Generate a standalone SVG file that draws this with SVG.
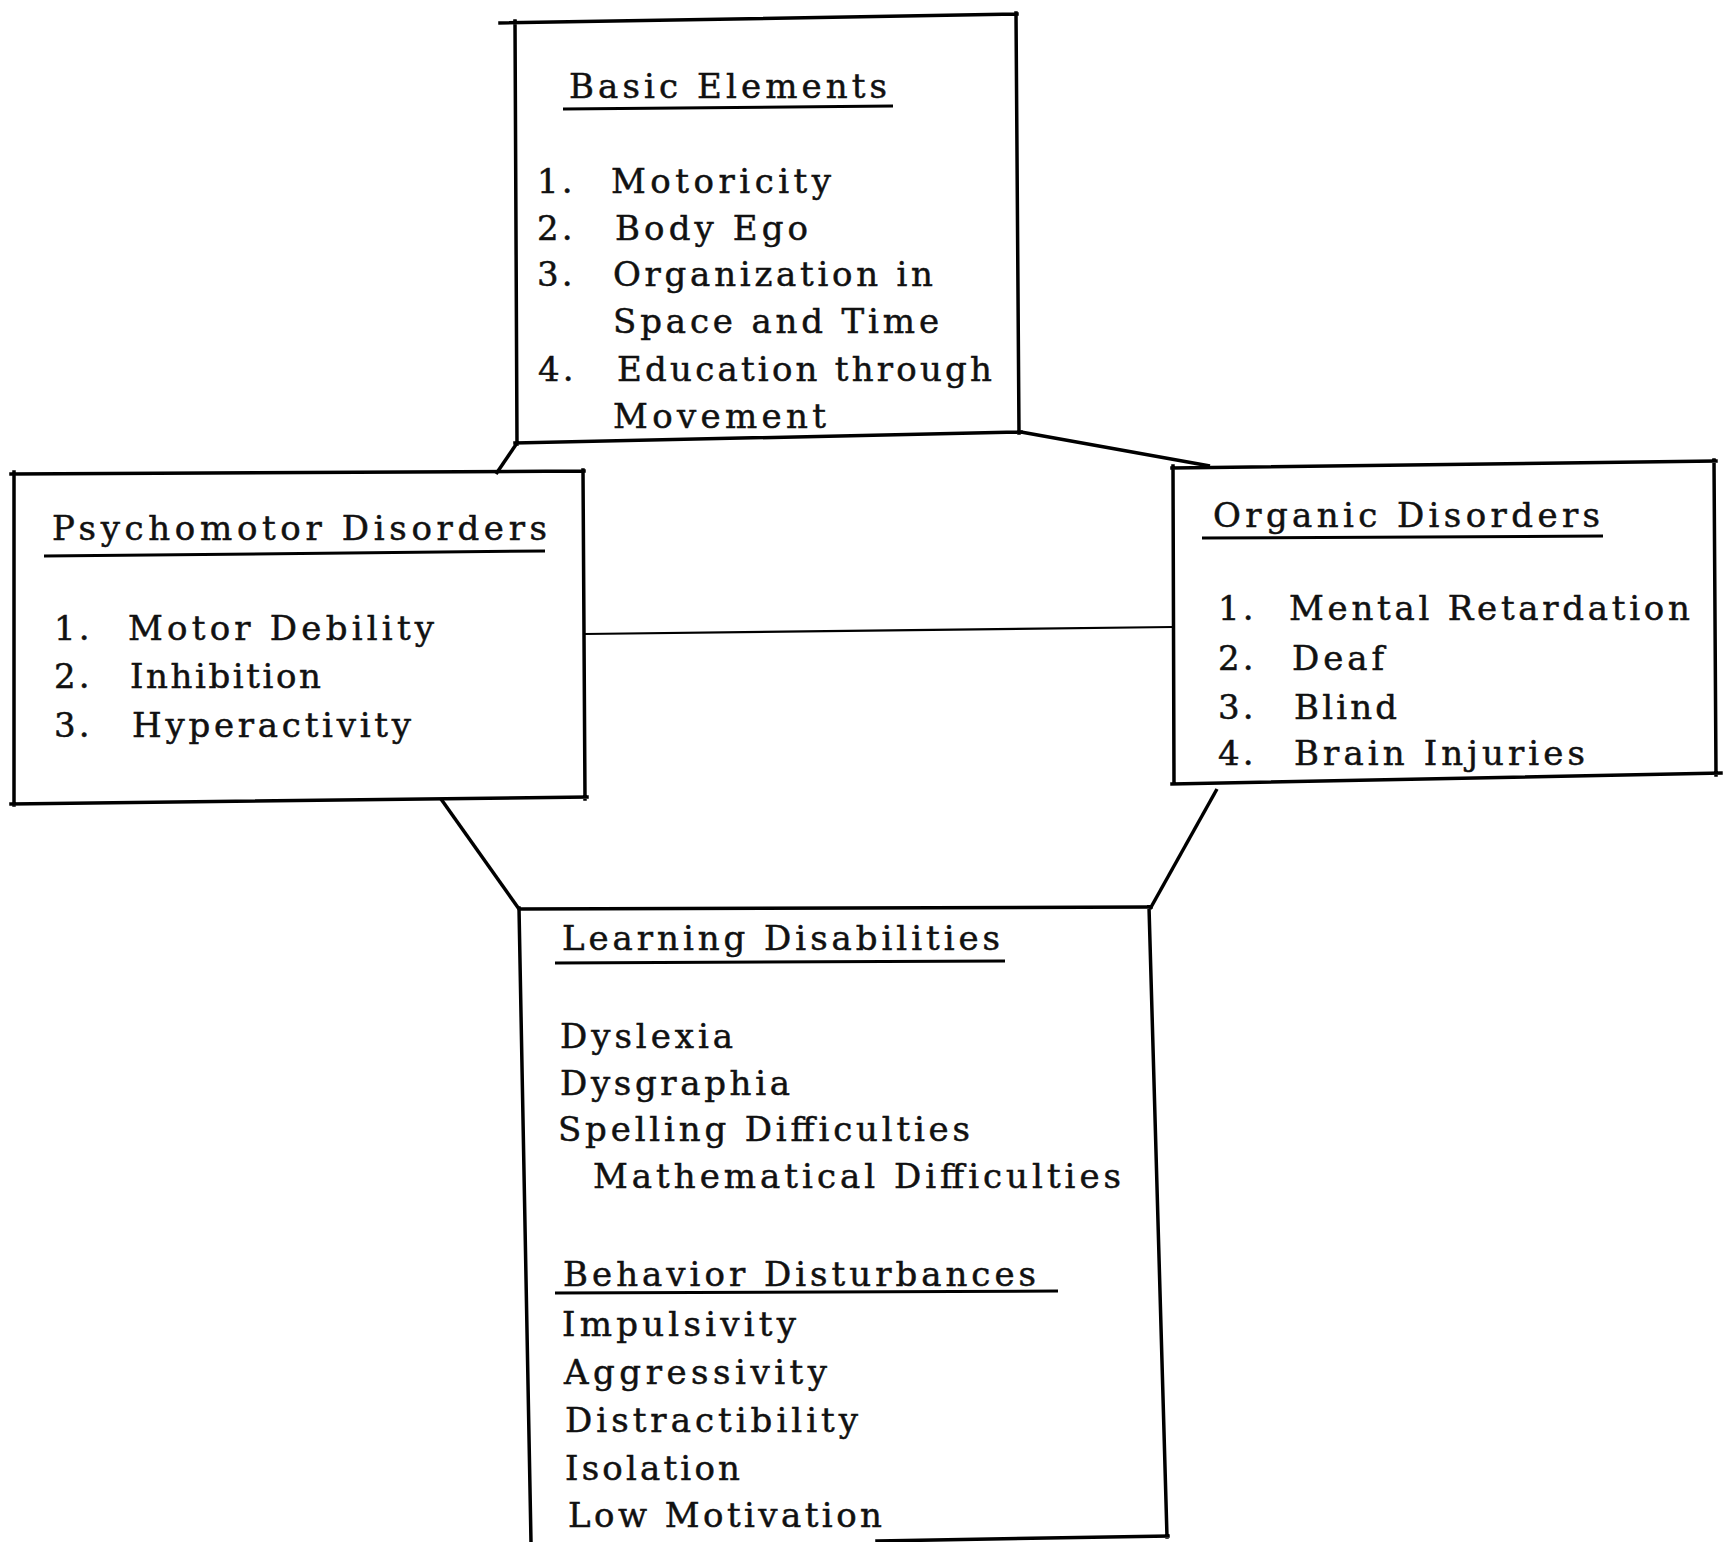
<svg xmlns="http://www.w3.org/2000/svg" width="1728" height="1542" viewBox="0 0 1728 1542">
<style>
.bx{fill:none;stroke:#000;stroke-width:3.5;stroke-linecap:square}
.ul{fill:none;stroke:#000;stroke-width:3}
.cn{fill:none;stroke:#000;stroke-width:3.5}
.thin{stroke-width:2.2}
text{font-family:"DejaVu Serif","Liberation Serif",serif;font-size:34px;fill:#111;stroke:#111;stroke-width:0.5}
.n{letter-spacing:3px}
</style>
<rect width="1728" height="1542" fill="#fff"/>
<g id="connectors">
<path class="cn" d="M517 443 L496 474"/>
<path class="cn" d="M1021 432 L1210 466"/>
<path class="cn thin" d="M584 634 L1173 627"/>
<path class="cn" d="M441 799 L519 909"/>
<path class="cn" d="M1217 789 L1150 909"/>
</g>
<g id="basic-elements">
<path class="bx" d="M500 23 L1017 14 M515 21 L517 444 M1016 13 L1019 433 M515 443 L1021 432"/>
<text x="569" y="98" textLength="318" lengthAdjust="spacing">Basic Elements</text>
<path class="ul" d="M563 109 L893 106"/>
<text class="n" x="537" y="193">1.</text><text x="611" y="193" textLength="220" lengthAdjust="spacing">Motoricity</text>
<text class="n" x="537" y="240">2.</text><text x="615" y="240" textLength="193" lengthAdjust="spacing">Body Ego</text>
<text class="n" x="537" y="286">3.</text><text x="613" y="286" textLength="320" lengthAdjust="spacing">Organization in</text>
<text x="613" y="333" textLength="326" lengthAdjust="spacing">Space and Time</text>
<text class="n" x="538" y="381">4.</text><text x="617" y="381" textLength="375" lengthAdjust="spacing">Education through</text>
<text x="613" y="428" textLength="213" lengthAdjust="spacing">Movement</text>
</g>
<g id="psychomotor-disorders">
<path class="bx" d="M11 474 L584 471 M14 472 L14 805 M583 470 L585 799 M11 804 L587 797"/>
<text x="52" y="540" textLength="495" lengthAdjust="spacing">Psychomotor Disorders</text>
<path class="ul" d="M44 556 L545 551"/>
<text class="n" x="54" y="640">1.</text><text x="128" y="640" textLength="306" lengthAdjust="spacing">Motor Debility</text>
<text class="n" x="54" y="688">2.</text><text x="130" y="688" textLength="191" lengthAdjust="spacing">Inhibition</text>
<text class="n" x="54" y="737">3.</text><text x="132" y="737" textLength="279" lengthAdjust="spacing">Hyperactivity</text>
</g>
<g id="organic-disorders">
<path class="bx" d="M1172 468 L1716 461 M1173 466 L1174 784 M1714 460 L1716 775 M1172 784 L1721 773"/>
<text x="1213" y="527" textLength="387" lengthAdjust="spacing">Organic Disorders</text>
<path class="ul" d="M1202 538 L1603 536"/>
<text class="n" x="1218" y="620">1.</text><text x="1289" y="620" textLength="401" lengthAdjust="spacing">Mental Retardation</text>
<text class="n" x="1218" y="670">2.</text><text x="1292" y="670" textLength="92" lengthAdjust="spacing">Deaf</text>
<text class="n" x="1218" y="719">3.</text><text x="1294" y="719" textLength="103" lengthAdjust="spacing">Blind</text>
<text class="n" x="1218" y="765">4.</text><text x="1294" y="765" textLength="291" lengthAdjust="spacing">Brain Injuries</text>
</g>
<g id="learning-disabilities">
<path class="bx" d="M519 909 L1151 907 M519 908 L531 1542 M1149 907 L1167 1537 M877 1541 L1168 1536"/>
<text x="562" y="950" textLength="438" lengthAdjust="spacing">Learning Disabilities</text>
<path class="ul" d="M555 963 L1005 961"/>
<text x="560" y="1048" textLength="173" lengthAdjust="spacing">Dyslexia</text>
<text x="560" y="1095" textLength="230" lengthAdjust="spacing">Dysgraphia</text>
<text x="558" y="1141" textLength="412" lengthAdjust="spacing">Spelling Difficulties</text>
<text x="593" y="1188" textLength="528" lengthAdjust="spacing">Mathematical Difficulties</text>
<text x="563" y="1286" textLength="473" lengthAdjust="spacing">Behavior Disturbances</text>
<path class="ul" d="M555 1293 L1058 1291"/>
<text x="562" y="1336" textLength="234" lengthAdjust="spacing">Impulsivity</text>
<text x="564" y="1384" textLength="263" lengthAdjust="spacing">Aggressivity</text>
<text x="565" y="1432" textLength="293" lengthAdjust="spacing">Distractibility</text>
<text x="565" y="1480" textLength="175" lengthAdjust="spacing">Isolation</text>
<text x="568" y="1527" textLength="314" lengthAdjust="spacing">Low Motivation</text>
</g>
</svg>
